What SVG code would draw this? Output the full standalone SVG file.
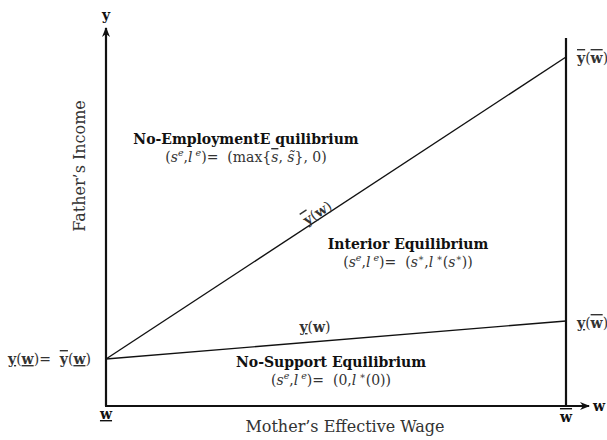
<svg xmlns="http://www.w3.org/2000/svg" width="607" height="440" viewBox="0 0 607 440">
<style>
text{font-family:"DejaVu Serif","Liberation Serif",serif;fill:#111}
.b{font-weight:bold;font-size:14px}
.m{font-size:14px;fill:#333}
.lab{font-size:16px;fill:#333}
.ax{stroke:#111;stroke-width:2.2;fill:none}
.ln{stroke:#111;stroke-width:1.4;fill:none}
.ov{text-decoration:overline}
.un{text-decoration:underline}
.sp{font-size:9.5px}
</style>
<defs>
<marker id="ah" markerWidth="10" markerHeight="8" refX="9" refY="4" orient="auto" markerUnits="userSpaceOnUse">
<path d="M0,0 L10,4 L0,8 L3,4 Z" fill="#111"/>
</marker>
</defs>
<g id="axes">
<line class="ax" x1="106" y1="406" x2="106" y2="28" marker-end="url(#ah)"/>
<line class="ax" x1="105" y1="406" x2="589" y2="406" marker-end="url(#ah)"/>
<line class="ax" x1="566" y1="38" x2="566" y2="406"/>
<text x="106" y="20" text-anchor="middle" font-weight="bold" font-size="14">y</text>
<text x="593" y="411" font-weight="bold" font-size="14">w</text>
<text class="lab" transform="translate(85,166) rotate(-90)" text-anchor="middle">Father’s Income</text>
<text class="lab" x="345" y="432" text-anchor="middle">Mother’s Effective Wage</text>
<text x="106" y="419" text-anchor="middle" font-weight="bold" font-size="14" class="un">w</text>
<text x="566" y="422" text-anchor="middle" font-weight="bold" font-size="14" class="ov">w</text>
</g>
<g id="connectors">
<line class="ln" x1="106" y1="359" x2="566" y2="57"/>
<line class="ln" x1="106" y1="359" x2="566" y2="321"/>
</g>
<g id="no-employment">
<text class="b" x="246" y="144" text-anchor="middle">No-EmploymentE quilibrium</text>
<text class="m" x="246" y="162" text-anchor="middle">(<tspan font-style="italic">s</tspan><tspan font-style="italic" class="sp" dy="-6">e</tspan><tspan dy="6">,</tspan><tspan font-style="italic">l</tspan><tspan font-style="italic" class="sp" dy="-6">&#160;e</tspan><tspan dy="6">)=&#160; (max{</tspan><tspan font-style="italic" class="ov">s</tspan>, <tspan font-style="italic">s̃</tspan>}, 0)</text>
</g>
<g id="upper-label">
<text class="m" transform="translate(320,217) rotate(-33.3)" text-anchor="middle"><tspan font-weight="bold" class="ov">y</tspan>(<tspan font-weight="bold">w</tspan>)</text>
</g>
<g id="interior">
<text class="b" x="408" y="249" text-anchor="middle">Interior Equilibrium</text>
<text class="m" x="408" y="267" text-anchor="middle">(<tspan font-style="italic">s</tspan><tspan font-style="italic" class="sp" dy="-6">e</tspan><tspan dy="6">,</tspan><tspan font-style="italic">l</tspan><tspan font-style="italic" class="sp" dy="-6">&#160;e</tspan><tspan dy="6">)=&#160; (</tspan><tspan font-style="italic">s</tspan><tspan class="sp" dy="-6">∗</tspan><tspan dy="6">,</tspan><tspan font-style="italic">l</tspan><tspan class="sp" dy="-6">&#160;∗</tspan><tspan dy="6">(</tspan><tspan font-style="italic">s</tspan><tspan class="sp" dy="-6">∗</tspan><tspan dy="6">))</tspan></text>
</g>
<g id="lower-label">
<text class="m" x="315" y="332" text-anchor="middle"><tspan font-weight="bold" class="un">y</tspan>(<tspan font-weight="bold">w</tspan>)</text>
</g>
<g id="no-support">
<text class="b" x="331" y="367" text-anchor="middle">No-Support Equilibrium</text>
<text class="m" x="331" y="385" text-anchor="middle">(<tspan font-style="italic">s</tspan><tspan font-style="italic" class="sp" dy="-6">e</tspan><tspan dy="6">,</tspan><tspan font-style="italic">l</tspan><tspan font-style="italic" class="sp" dy="-6">&#160;e</tspan><tspan dy="6">)=&#160; (0,</tspan><tspan font-style="italic">l</tspan><tspan class="sp" dy="-6">&#160;∗</tspan><tspan dy="6">(0))</tspan></text>
</g>
<g id="left-label">
<text class="m" x="8" y="364"><tspan font-weight="bold" class="un">y</tspan>(<tspan font-weight="bold" class="un">w</tspan>)=&#160; <tspan font-weight="bold" class="ov">y</tspan>(<tspan font-weight="bold" class="un">w</tspan>)</text>
</g>
<g id="right-labels">
<text class="m" x="577" y="63"><tspan font-weight="bold" class="ov">y</tspan>(<tspan font-weight="bold" class="ov">w</tspan>)</text>
<text class="m" x="577" y="328"><tspan font-weight="bold" class="un">y</tspan>(<tspan font-weight="bold" class="ov">w</tspan>)</text>
</g>
</svg>
